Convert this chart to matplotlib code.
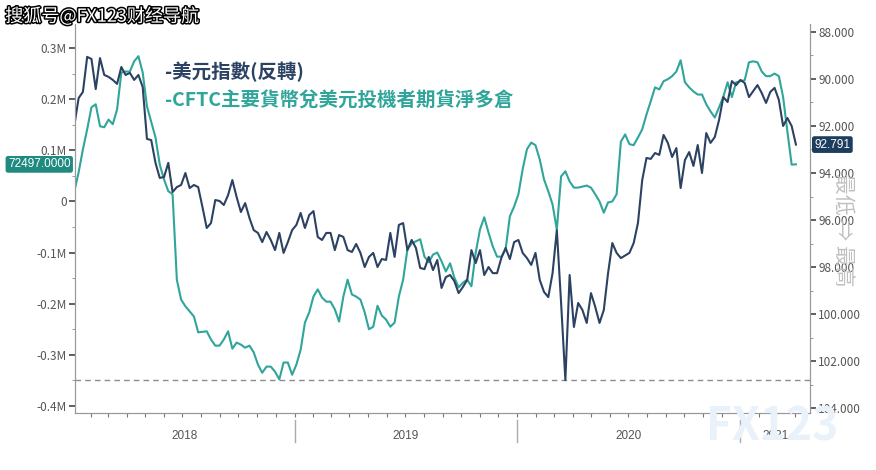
import numpy as np
import pandas as pd
import matplotlib
matplotlib.use('Agg')
import matplotlib.pyplot as plt
import matplotlib.dates as mdates
import matplotlib.patheffects as pe
import matplotlib.transforms as mtrans
from matplotlib.ticker import FuncFormatter, MultipleLocator

plt.rcParams['font.family'] = ['Noto Sans CJK TC', 'DejaVu Sans']

# weekly data, week 0 = 2018-01-05
start = pd.Timestamp('2018-01-05')

# US dollar index (plotted on inverted right axis)
dxy_weeks = [0, 1, 2, 3, 4, 5, 6, 7, 8, 9, 10, 11, 12, 13, 14, 15, 16, 17, 18, 19,
             20, 21, 22, 23, 24, 25, 26, 27, 28, 29, 30, 31, 32, 33, 34, 35, 36, 37, 38, 39,
             40, 41, 42, 43, 44, 45, 46, 47, 48, 49, 50, 51, 52, 53, 54, 55, 56, 57, 58, 59,
             60, 61, 62, 63, 64, 65, 66, 67, 68, 69, 70, 71, 72, 73, 74, 75, 76, 77, 78, 79,
             80, 81, 82, 83, 84, 85, 86, 87, 88, 89, 90, 91, 92, 93, 94, 95, 96, 97, 98, 99,
             100, 101, 102, 103, 104, 105, 106, 107, 108, 109, 110, 111, 112, 113, 114, 115,
             116, 117, 118, 119, 120, 121, 122, 123, 124, 125, 126, 127, 128, 130, 131, 132,
             133, 134, 135, 136, 137, 138, 139, 140, 141, 142, 143, 144, 145, 146, 147, 148,
             149, 150, 151, 152, 153, 154, 155, 156, 157, 158, 160, 161, 162, 163, 164, 165,
             166, 167, 168, 169]
dxy_values = [91.96, 90.81, 90.55, 89.06, 89.15, 90.43, 89.11, 89.83, 89.91, 90.04,
              90.21, 89.49, 89.83, 89.74, 90.04, 89.83, 90.34, 92.55, 92.60, 93.57,
              94.21, 94.17, 93.57, 94.81, 94.60, 94.51, 94.00, 94.64, 94.51, 94.60,
              95.45, 96.34, 96.13, 95.15, 95.19, 95.36, 94.94, 94.30, 95.02, 95.66,
              95.28, 95.91, 96.43, 96.55, 96.94, 96.51, 96.85, 97.28, 96.55, 97.40,
              96.94, 96.43, 96.21, 95.70, 96.34, 95.79, 95.62, 96.72, 96.85, 96.55,
              96.55, 97.28, 96.64, 96.72, 97.28, 97.36, 97.02, 97.40, 98.00, 97.57,
              97.40, 98.00, 97.66, 97.70, 96.55, 97.57, 96.21, 96.13, 97.28, 96.85,
              97.19, 98.04, 98.09, 97.57, 98.13, 97.70, 98.89, 98.43, 98.34, 98.60,
              99.11, 98.85, 98.55, 97.28, 97.83, 97.28, 98.34, 98.00, 98.26, 98.26,
              97.62, 97.19, 97.66, 96.94, 96.85, 97.40, 97.62, 97.91, 97.40, 98.55,
              99.06, 99.28, 98.26, 96.43, 99.53, 102.81, 98.34, 100.55, 99.53, 99.83,
              100.38, 99.11, 99.70, 100.38, 99.83, 98.26, 96.98, 97.40, 97.62, 97.40,
              96.98, 96.13, 94.30, 93.36, 93.40, 93.15, 93.23, 92.38, 92.72, 93.32,
              92.94, 94.64, 93.45, 93.11, 93.70, 92.81, 94.00, 92.30, 92.72, 92.47,
              91.74, 90.77, 90.98, 90.09, 90.26, 90.04, 90.17, 90.77, 90.26, 90.60,
              91.02, 90.55, 90.38, 90.89, 92.00, 91.66, 92.00, 92.791]

# CFTC speculative net long in major currencies vs USD (millions of contracts)
cftc_weeks = [0, 1, 2, 3, 4, 5, 6, 7, 8, 9, 10, 11, 12, 13, 14, 15, 16, 17, 19, 20,
              21, 22, 23, 24, 25, 26, 28, 29, 31, 32, 33, 34, 35, 36, 37, 38, 39, 40, 41, 42,
              43, 44, 45, 46, 47, 48, 49, 50, 51, 52, 53, 54, 55, 56, 57, 58, 59, 60, 61, 62,
              63, 64, 65, 66, 67, 68, 69, 70, 71, 72, 73, 74, 75, 76, 77, 78, 79, 80, 81, 82,
              83, 84, 85, 86, 87, 88, 89, 90, 91, 92, 93, 94, 95, 96, 97, 98, 99, 100, 101,
              102, 103, 104, 105, 106, 107, 108, 109, 110, 111, 112, 113, 114, 115, 116, 117,
              118, 120, 121, 122, 123, 124, 125, 126, 127, 128, 129, 130, 131, 132, 133, 134,
              135, 136, 137, 138, 139, 140, 141, 142, 143, 144, 145, 146, 147, 148, 149, 150,
              151, 152, 153, 154, 155, 156, 157, 158, 159, 160, 161, 162, 163, 164, 165, 166,
              167, 168, 169]
cftc_values = [0.020, 0.057, 0.102, 0.141, 0.184, 0.190, 0.147, 0.145, 0.160, 0.151,
               0.180, 0.252, 0.254, 0.254, 0.274, 0.284, 0.252, 0.186, 0.125, 0.072,
               0.043, 0.020, 0.014, -0.153, -0.192, -0.205, -0.225, -0.256, -0.254, -0.270,
               -0.282, -0.282, -0.270, -0.254, -0.288, -0.276, -0.280, -0.286, -0.282, -0.295,
               -0.319, -0.335, -0.323, -0.323, -0.333, -0.348, -0.315, -0.315, -0.339, -0.319,
               -0.290, -0.237, -0.217, -0.186, -0.172, -0.188, -0.196, -0.196, -0.211, -0.235,
               -0.186, -0.153, -0.182, -0.186, -0.192, -0.217, -0.250, -0.245, -0.204, -0.223,
               -0.231, -0.245, -0.237, -0.186, -0.153, -0.094, -0.082, -0.078, -0.074, -0.108,
               -0.119, -0.104, -0.100, -0.117, -0.137, -0.121, -0.149, -0.168, -0.159, -0.153,
               -0.166, -0.100, -0.055, -0.031, -0.061, -0.088, -0.108, -0.108, -0.094,
               -0.029, -0.010, 0.014, 0.063, 0.102, 0.115, 0.110, 0.082, 0.043, 0.020,
               -0.006, -0.055, 0.049, 0.059, 0.039, 0.027,
               0.027, 0.031, 0.027, 0.014, 0.000, -0.022, -0.002, 0.000, 0.014, 0.117,
               0.131, 0.112, 0.110, 0.125, 0.141, 0.170,
               0.196, 0.223, 0.219, 0.235, 0.239, 0.245, 0.254, 0.276, 0.233, 0.223,
               0.215, 0.209, 0.209, 0.190, 0.176, 0.164,
               0.184, 0.205, 0.233, 0.204, 0.233, 0.235, 0.237, 0.272, 0.274, 0.272,
               0.254, 0.245, 0.245, 0.250, 0.245, 0.204,
               0.137, 0.072, 0.072497]

year_labels = ['2018', '2019', '2020', '2021']
legend_dxy = '-美元指數(反轉)'
legend_cftc = '-CFTC主要貨幣兌美元投機者期貨淨多倉'
ref_level = -0.35

navy = '#2c4263'
teal = '#30a59a'
grey = '#555555'

dxy_dates = start + pd.to_timedelta(np.array(dxy_weeks) * 7, unit='D')
cftc_dates = start + pd.to_timedelta(np.array(cftc_weeks) * 7, unit='D')

fig = plt.figure(figsize=(8.76, 4.70), dpi=100)
ax = fig.add_axes([0.0856, 0.1213, 0.839, 0.8277])
ax2 = ax.twinx()

ax.plot(cftc_dates, cftc_values, color=teal, lw=1.5)
ax2.plot(dxy_dates, dxy_values, color=navy, lw=1.5)
ax.axhline(ref_level, color='#8c8c8c', lw=1, ls=(0, (4, 3)))

x0 = start + pd.Timedelta(days=1)
x1 = start + pd.Timedelta(days=int(172.4 * 7))
ax.set_xlim(x0, x1)
ax.set_ylim(-0.4137, 0.347)
ax2.set_ylim(104.21, 87.66)

# left axis
ax.yaxis.set_major_locator(MultipleLocator(0.1))
ax.yaxis.set_minor_locator(MultipleLocator(0.05))
ax.yaxis.set_major_formatter(FuncFormatter(lambda v, p: '0' if abs(v) < 1e-9 else f'{v:.1f}M'))
ax.tick_params(axis='y', which='major', length=4, width=1.2, color='#444', labelsize=8.5, labelcolor=grey, pad=2)
ax.tick_params(axis='y', which='minor', length=2, color='#888')

# right axis
ax2.yaxis.set_major_locator(MultipleLocator(2))
ax2.yaxis.set_minor_locator(MultipleLocator(1))
ax2.yaxis.set_major_formatter(FuncFormatter(lambda v, p: f'{v:.3f}'))
ax2.tick_params(axis='y', which='major', length=4, width=1.2, color='#444', labelsize=8.5, labelcolor=grey, pad=2)
ax2.tick_params(axis='y', which='minor', length=2, color='#888')

# bottom axis: monthly ticks, years drawn by hand
ax.xaxis.set_major_locator(mdates.MonthLocator())
ax.xaxis.set_major_formatter(FuncFormatter(lambda v, p: ''))
ax.tick_params(axis='x', which='major', length=3, color='#777')

for a in (ax, ax2):
    a.spines['top'].set_visible(False)
    for s in ('left', 'right', 'bottom'):
        a.spines[s].set_color('#999999')

trans = mtrans.blended_transform_factory(ax.transData, ax.transAxes)
bounds = [x0] + [pd.Timestamp(f'{y}-01-01') for y in year_labels[1:]] + [x1]
for i, lab in enumerate(year_labels):
    mid = bounds[i] + (bounds[i + 1] - bounds[i]) / 2
    ax.text(mid, -0.059, lab, transform=trans, ha='center', va='center',
            fontsize=8.5, color=grey, family=['Liberation Sans', 'DejaVu Sans'])
    if i > 0:
        ax.plot([bounds[i], bounds[i]], [-0.018, -0.075], transform=trans,
                color='#aaaaaa', lw=1, clip_on=False)

# legend texts
ax.text(0.1224, 0.8766, legend_dxy, transform=ax.transAxes, color=navy,
        fontsize=14, fontweight='bold', va='center', ha='left')
ax.text(0.1224, 0.802, legend_cftc, transform=ax.transAxes, color=teal,
        fontsize=14, fontweight='bold', va='center', ha='left')

# last value labels
tl = mtrans.blended_transform_factory(ax.transAxes, ax.transData)
ax.text(-0.006, cftc_values[-1], f'{cftc_values[-1] * 1e6:.4f}', transform=tl,
        ha='right', va='center', color='white', fontsize=8.5,
        family=['Liberation Sans', 'DejaVu Sans'],
        bbox=dict(boxstyle='round,pad=0.2', fc='#1f8a80', ec='none'))
tr = mtrans.blended_transform_factory(ax2.transAxes, ax2.transData)
ax2.text(1.006, dxy_values[-1], f'{dxy_values[-1]:.3f}', transform=tr,
         ha='left', va='center', color='white', fontsize=8.5,
         family=['Liberation Sans', 'DejaVu Sans'],
         bbox=dict(boxstyle='round,pad=0.2', fc='#1d3d5e', ec='none'))

# inverted axis note
fig.text(0.962, 0.51, '最低 ⇒ 最高', rotation=270, ha='center', va='center',
         fontsize=15, color='#c0c0c0')

# watermarks
fig.text(0.882, 0.09, 'FX123', ha='center', va='center', fontsize=32,
         fontweight='bold', color='#e9f1fb', zorder=0)
fig.text(0.006, 0.985, '搜狐号@FX123财经导航', ha='left', va='top', fontsize=13,
         color='white', family=['Noto Sans CJK SC', 'DejaVu Sans'],
         path_effects=[pe.withStroke(linewidth=2.2, foreground='black')])

fig.savefig('out.png', dpi=100)
